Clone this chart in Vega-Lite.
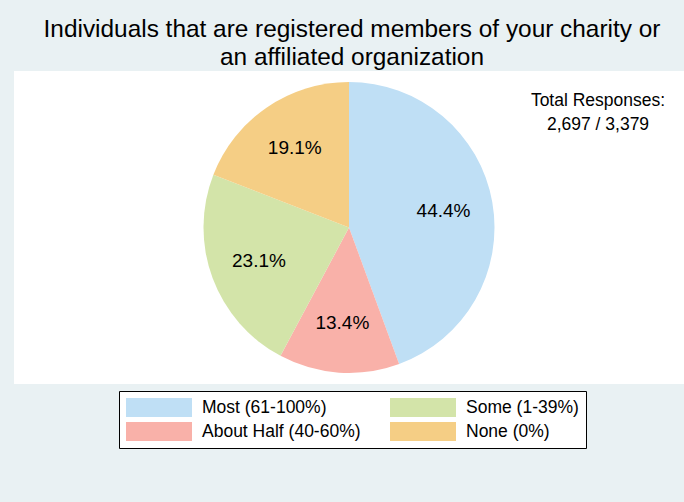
{
  "$schema": "https://vega.github.io/schema/vega-lite/v6.json",
  "background": "#E9F1F3",
  "padding": {"left": 14, "top": 16, "right": 0, "bottom": 55},
  "title": {
    "text": ["Individuals that are registered members of your charity or", "an affiliated organization"],
    "anchor": "middle",
    "fontSize": 24.4,
    "font": "Liberation Sans",
    "fontWeight": "normal",
    "color": "black",
    "lineHeight": 28,
    "offset": 1,
    "dx": 3
  },
  "config": {
    "font": "Liberation Sans",
    "view": {"stroke": null}
  },
  "vconcat": [
    {
      "width": 670,
      "height": 313,
      "view": {"fill": "white", "stroke": null},
      "title": {
        "text": "Total Responses:",
        "subtitle": "2,697 / 3,379",
        "anchor": "end",
        "frame": "group",
        "orient": "top",
        "align": "center",
        "dx": -86,
        "offset": -62,
        "fontSize": 17.5,
        "fontWeight": "normal",
        "color": "black",
        "subtitleFontSize": 17.5,
        "subtitleColor": "black",
        "subtitleFont": "Liberation Sans",
        "subtitlePadding": 6
      },
      "data": {
        "values": [
          {"cat": "Most (61-100%)", "pct": 44.4, "label": "44.4%", "ord": 1},
          {"cat": "About Half (40-60%)", "pct": 13.4, "label": "13.4%", "ord": 2},
          {"cat": "Some (1-39%)", "pct": 23.1, "label": "23.1%", "ord": 3},
          {"cat": "None (0%)", "pct": 19.1, "label": "19.1%", "ord": 4}
        ]
      },
      "layer": [
        {
          "mark": {"type": "arc", "outerRadius": 145.5, "stroke": null},
          "encoding": {
            "theta": {"field": "pct", "type": "quantitative", "stack": true},
            "order": {"field": "ord", "type": "quantitative"},
            "color": {
              "field": "cat",
              "type": "nominal",
              "scale": {
                "domain": ["Most (61-100%)", "About Half (40-60%)", "Some (1-39%)", "None (0%)"],
                "range": ["#BFDFF5", "#F9B1A9", "#D3E4A9", "#F5CE85"]
              },
              "legend": {
                "orient": "none",
                "legendX": 105,
                "legendY": 320,
                "title": null,
                "columns": 2,
                "symbolType": "M-1,-1H5.947V1H-1Z",
                "symbolSize": 361,
                "symbolStrokeWidth": 0,
                "symbolOpacity": 1,
                "labelFontSize": 17.5,
                "labelFont": "Liberation Sans",
                "labelColor": "black",
                "labelOffset": 57,
                "labelLimit": 300,
                "columnPadding": 29,
                "rowPadding": 5,
                "padding": 7,
                "strokeColor": "black",
                "fillColor": "white"
              }
            }
          }
        },
        {
          "mark": {"type": "text", "radius": 96, "fontSize": 19, "color": "black", "font": "Liberation Sans"},
          "encoding": {
            "theta": {"field": "pct", "type": "quantitative", "stack": true},
            "order": {"field": "ord", "type": "quantitative"},
            "detail": {"field": "cat", "type": "nominal"},
            "text": {"field": "label", "type": "nominal"}
          }
        }
      ]
    }
  ]
}
